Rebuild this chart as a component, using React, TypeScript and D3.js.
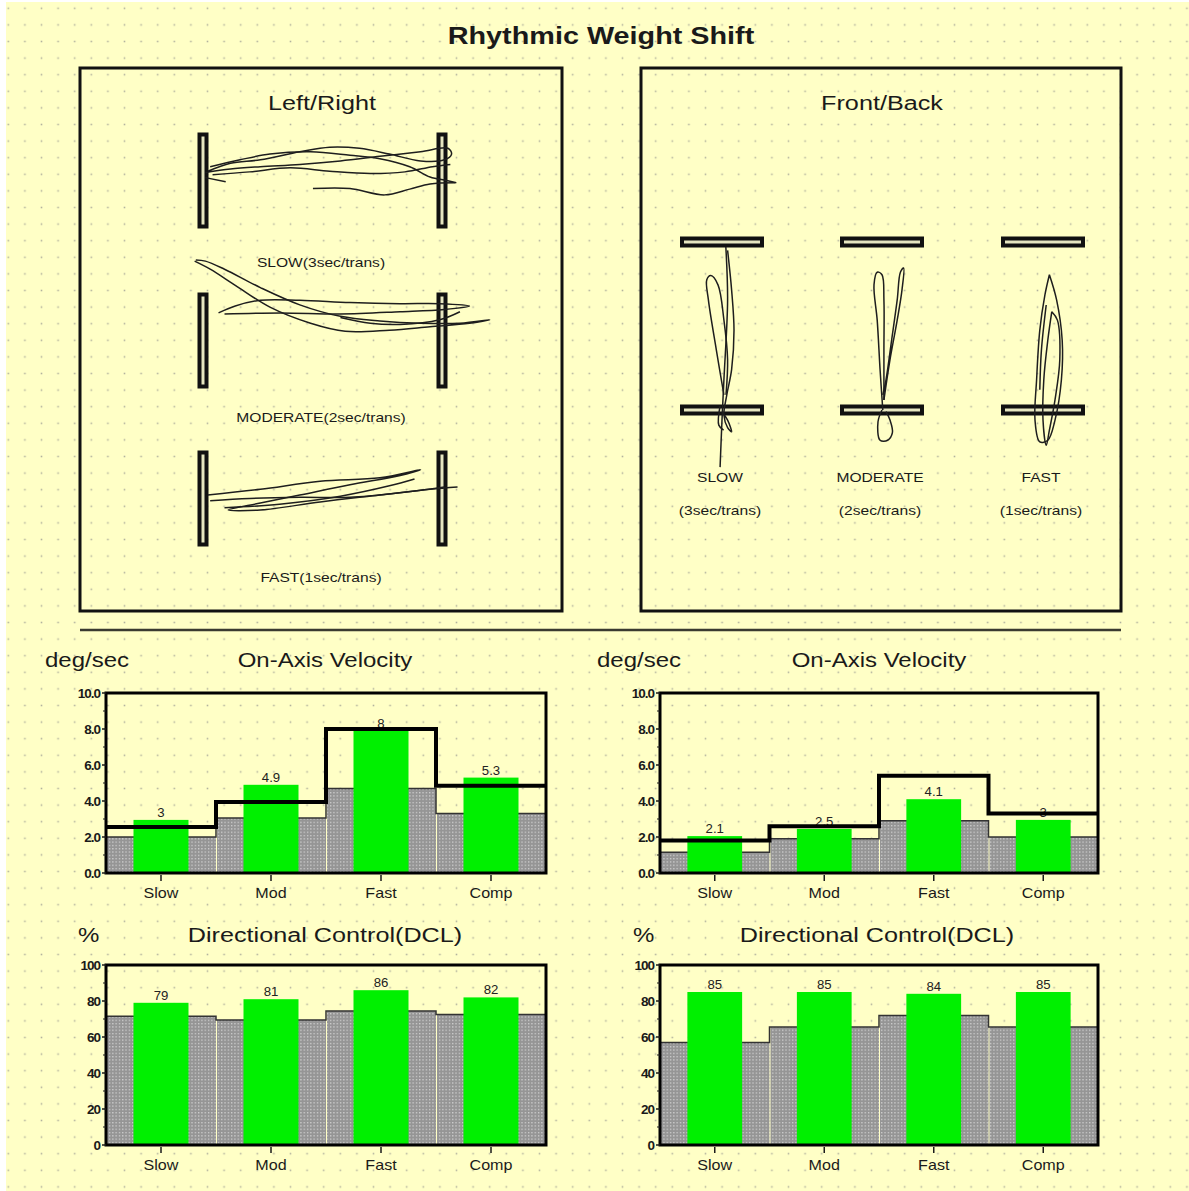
import React, { useEffect, useRef } from "react";
import * as d3 from "d3";

const categories = ["Slow", "Mod", "Fast", "Comp"];

// on-axis velocity, deg/sec
const lrVelocity = [2.95, 4.9, 7.9, 5.3];
const lrVelocityLabels = ["3", "4.9", "8", "5.3"];
const lrVelocityUpper = [2.55, 3.95, 8.0, 4.85];
const lrVelocityNorm = [2.0, 3.05, 4.7, 3.3];

const fbVelocity = [2.05, 2.45, 4.1, 2.95];
const fbVelocityLabels = ["2.1", "2.5", "4.1", "3"];
const fbVelocityUpper = [1.8, 2.6, 5.4, 3.3];
const fbVelocityNorm = [1.15, 1.9, 2.9, 2.0];

// directional control, %
const lrDcl = [79, 81, 86, 82];
const lrDclLabels = ["79", "81", "86", "82"];
const lrDclNorm = [71.5, 69.5, 74.5, 72.5];

const fbDcl = [85, 85, 84, 85];
const fbDclLabels = ["85", "85", "84", "85"];
const fbDclNorm = [57, 65.5, 72, 65.5];

const velocityTicks = [0, 2, 4, 6, 8, 10];
const dclTicks = [0, 20, 40, 60, 80, 100];

// COP traces, % of target distance (u = left/right, v = front/back)
const lrSlowTraces = [
  [[-96, 8], [-77, 15], [-52, 18], [-19, 25], [6, 29], [31, 28], [56, 23], [82, 17], [102, 18], [108, 23], [105, 28], [82, 25], [48, 21], [15, 17], [-19, 14], [-52, 12], [-77, 10], [-98, 7]],
  [[-94, 12], [-69, 18], [-44, 23], [-10, 25], [23, 22], [48, 19], [73, 12], [90, 3], [104, 0], [112, -2]],
  [[-92, 5], [-61, 7.5], [-27, 11], [6, 8], [40, 6], [69, 7.5], [92, 12], [107, 14]],
  [[-8, -7], [23, -7], [52, -12.5], [73, -7.5], [90, -3], [111, -2]],
  [[-98, 2.5], [-81, -1]],
];
const lrModTraces = [
  [[-106, 70], [-98, 69], [-82, 62], [-52, 46], [-19, 31], [15, 21], [48, 17], [82, 15], [115, 15], [140, 18], [123, 15], [90, 12], [56, 9], [19, 8], [-10, 15], [-44, 29], [-73, 48], [-94, 62], [-107, 69]],
  [[-87, 24], [-73, 30], [-52, 35], [-19, 35], [23, 33], [65, 32], [98, 32], [123, 30], [102, 27], [65, 25], [15, 23], [-35, 24], [-82, 23]],
  [[15, 20], [40, 15], [65, 14], [98, 18], [115, 25]],
];
const lrFastTraces = [
  [[-96, 3], [-52, 8], [-2, 15], [48, 18], [82, 25], [65, 20], [23, 12], [-19, 3], [-52, -4], [-79, -10], [-52, -10], [-2, -3], [48, 3], [90, 8], [113, 10]],
  [[-94, -2], [-61, 0], [-19, 1], [23, 1], [65, 5], [102, 10]],
  [[-82, -8], [-36, -5], [15, 2], [56, 11], [77, 17]],
];
const fbSlowTraces = [
  [[4.8, 94], [7, 31], [2.4, -64], [0, -112], [-2.4, -168]],
  [[2.4, -82], [-7, -29], [-17, 31], [-19, 55], [-14, 60], [-5, 49], [2.4, 7], [7, -40], [5, -82]],
  [[7, 90], [12, 43], [15, -5], [12, -52], [6, -82], [2.4, -106], [7, -121], [12, -126], [7, -112], [0, -102]],
  [[-2.4, -95], [-4, -118], [2, -124]],
];
const fbModTraces = [
  [[1, -100], [-2.4, -52], [-6, 7], [-10, 49], [-6, 64], [0, 61], [2.4, 31], [2.4, -29], [2.4, -88]],
  [[2.4, -88], [10, -40], [19, 7], [25, 43], [27, 69], [23, 64], [19, 31], [12, -17], [5, -64], [1, -82]],
  [[0, -100], [-5, -114], [-2.4, -136], [7, -136], [13, -127], [10, -112], [5, -102]],
];
const fbFastTraces = [
  [[8, 61], [17, 31], [24, -17], [23, -64], [15, -112], [6, -136], [-4, -138], [-10, -112], [-8, -64], [-4, -5], [2.4, 37], [8, 61]],
  [[11, 17], [18, 7], [21, -40], [15, -88], [8, -124], [4, -142], [0, -112], [1, -64], [6, -17], [11, 17]],
  [[-4, -76], [-2, -29], [4, 25]],
];

const lrTrials = ["SLOW(3sec/trans)", "MODERATE(2sec/trans)", "FAST(1sec/trans)"];
const fbTrials = ["SLOW", "MODERATE", "FAST"];
const fbRates = ["(3sec/trans)", "(2sec/trans)", "(1sec/trans)"];

const W = 1189;
const H = 1191;
const FONT = "'Liberation Sans', Arial, sans-serif";
const INK = "#1a1a1a";

function label(g, x, y, str, size, anchor = "middle", sx = 1.2, weight = "normal") {
  return g.append("text")
    .attr("transform", `translate(${x},${y}) scale(${sx},1)`)
    .attr("text-anchor", anchor)
    .attr("font-family", FONT)
    .attr("font-size", size)
    .attr("font-weight", weight)
    .attr("fill", INK)
    .text(str);
}

function drawBarChart(svg, cfg) {
  const { x0, x1, y0, y1, max, ticks, fmt, values, labels, norm, upper, unit, unitX, title, titleX, titleY, titleSize } = cfg;
  const x = d3.scaleBand().domain(categories).range([x0, x1]);
  const y = d3.scaleLinear().domain([0, max]).range([y1, y0]);
  const bw = x.bandwidth();
  const g = svg.append("g");

  label(g, unitX, titleY, unit, 20, "start");
  label(g, titleX, titleY, title, titleSize);

  // normal range (grey)
  g.selectAll("rect.norm").data(categories).join("rect")
    .attr("x", d => x(d) + 1)
    .attr("width", bw - 1)
    .attr("y", (d, i) => y(norm[i]))
    .attr("height", (d, i) => y(0) - y(norm[i]))
    .attr("fill", "url(#grayDots)");

  const stepPts = vals => categories.flatMap((c, i) => [[x(c), vals[i]], [x(c) + bw, vals[i]]]);
  const step = d3.line().x(d => d[0]).y(d => y(d[1]));

  g.append("path")
    .attr("d", step(stepPts(norm)))
    .attr("fill", "none")
    .attr("stroke", "#333")
    .attr("stroke-width", 1.5);

  // patient scores (green)
  g.selectAll("rect.score").data(categories).join("rect")
    .attr("x", d => x(d) + bw / 4)
    .attr("width", bw / 2)
    .attr("y", (d, i) => y(values[i]))
    .attr("height", (d, i) => y(0) - y(values[i]))
    .attr("fill", "#00f000");

  g.selectAll("text.val").data(categories).join("text")
    .attr("transform", (d, i) => `translate(${x(d) + bw / 2},${y(values[i]) - 3}) scale(1.1,1)`)
    .attr("text-anchor", "middle")
    .attr("font-family", FONT)
    .attr("font-size", 12)
    .attr("fill", "#222")
    .text((d, i) => labels[i]);

  if (upper) {
    g.append("path")
      .attr("d", step(stepPts(upper)))
      .attr("fill", "none")
      .attr("stroke", "#000")
      .attr("stroke-width", 4)
      .attr("stroke-linejoin", "miter");
  }

  // frame
  g.append("rect")
    .attr("x", x0).attr("y", y0)
    .attr("width", x1 - x0).attr("height", y1 - y0)
    .attr("fill", "none")
    .attr("stroke", "#000")
    .attr("stroke-width", 3);

  // y axis
  const minor = d3.range(0, ticks.length - 1).map(i => (ticks[i] + ticks[i + 1]) / 2);
  g.selectAll("line.ytick").data(ticks).join("line")
    .attr("x1", x0 - 4).attr("x2", x0)
    .attr("y1", d => y(d)).attr("y2", d => y(d))
    .attr("stroke", INK).attr("stroke-width", 1.5);
  g.selectAll("line.yminor").data(minor).join("line")
    .attr("x1", x0 - 3).attr("x2", x0)
    .attr("y1", d => y(d)).attr("y2", d => y(d))
    .attr("stroke", INK).attr("stroke-width", 1);
  ticks.forEach(t => label(g, x0 - 6, y(t) + 5, fmt(t), 13.5, "end", 1.0, "bold").attr("letter-spacing", -1));

  // x axis
  g.selectAll("line.xtick").data(categories).join("line")
    .attr("x1", d => x(d) + bw / 2).attr("x2", d => x(d) + bw / 2)
    .attr("y1", y1 + 2).attr("y2", y1 + 8)
    .attr("stroke", INK).attr("stroke-width", 1.5);
  categories.forEach(c => label(g, x(c) + bw / 2, y1 + 25, c, 14, "middle", 1.15));
}

function drawTrace(g, traces, xs, ys) {
  const line = d3.line().x(d => xs(d[0])).y(d => ys(d[1])).curve(d3.curveCatmullRom.alpha(0.5));
  g.selectAll(null).data(traces).join("path")
    .attr("d", d => line(d))
    .attr("fill", "none")
    .attr("stroke", "#1e1e1e")
    .attr("stroke-width", 1.5);
}

function target(g, cx, cy, w, h) {
  g.append("rect")
    .attr("x", cx - w / 2).attr("y", cy - h / 2)
    .attr("width", w).attr("height", h)
    .attr("fill", "#e6e6c0")
    .attr("stroke", "#111")
    .attr("stroke-width", 4);
}

export default function App() {
  const ref = useRef(null);

  useEffect(() => {
    const svg = d3.select(ref.current);
    svg.selectAll("*").remove();

    const defs = svg.append("defs");
    const bg = defs.append("pattern").attr("id", "bgDots")
      .attr("patternUnits", "userSpaceOnUse").attr("width", 16.6).attr("height", 16.6);
    bg.append("rect").attr("x", 7.5).attr("y", 7.5).attr("width", 1.6).attr("height", 1.6).attr("fill", "#b2b29e");
    const gd = defs.append("pattern").attr("id", "grayDots")
      .attr("patternUnits", "userSpaceOnUse").attr("width", 3.3).attr("height", 3.3);
    gd.append("rect").attr("width", 3.3).attr("height", 3.3).attr("fill", "#959595");
    gd.append("rect").attr("width", 1.3).attr("height", 1.3).attr("fill", "#cfcfcf");

    svg.append("rect").attr("width", W).attr("height", H).attr("fill", "#fff");
    svg.append("rect").attr("x", 6).attr("y", 2).attr("width", W - 6).attr("height", H - 2).attr("fill", "#ffffc6");
    svg.append("rect").attr("x", 6).attr("y", 2).attr("width", W - 6).attr("height", H - 2).attr("fill", "url(#bgDots)");

    label(svg, 601, 44, "Rhythmic Weight Shift", 24, "middle", 1.2, "bold");

    // boxes
    [[80, 562], [641, 1121]].forEach(([a, b]) => {
      svg.append("rect").attr("x", a).attr("y", 68).attr("width", b - a).attr("height", 543)
        .attr("fill", "none").attr("stroke", "#111").attr("stroke-width", 3);
    });
    svg.append("line").attr("x1", 80).attr("x2", 1121).attr("y1", 630).attr("y2", 630)
      .attr("stroke", "#3a3a30").attr("stroke-width", 2.5);

    label(svg, 322, 110, "Left/Right", 21);
    label(svg, 882, 110, "Front/Back", 21);

    // left/right panels
    const lrX = d3.scaleLinear().domain([-100, 100]).range([203, 442]);
    const lrSets = [lrSlowTraces, lrModTraces, lrFastTraces];
    const lrCenters = [180.5, 340.5, 498.5];
    const lrLabelY = [266.5, 421.5, 581.5];
    lrSets.forEach((traces, i) => {
      const ys = d3.scaleLinear().domain([-40, 40]).range([lrCenters[i] + 46, lrCenters[i] - 46]);
      const g = svg.append("g");
      target(g, lrX(-100), ys(0), 7, ys(-40) - ys(40));
      target(g, lrX(100), ys(0), 7, ys(-40) - ys(40));
      drawTrace(g, traces, lrX, ys);
      label(g, 321, lrLabelY[i], lrTrials[i], 13);
    });

    // front/back panels
    const fbY = d3.scaleLinear().domain([-100, 100]).range([410, 242]);
    const fbSets = [fbSlowTraces, fbModTraces, fbFastTraces];
    const fbCenters = [722, 882, 1043];
    fbSets.forEach((traces, i) => {
      const xs = d3.scaleLinear().domain([-50, 50]).range([fbCenters[i] - 40, fbCenters[i] + 40]);
      const g = svg.append("g");
      target(g, xs(0), fbY(100), xs(50) - xs(-50), 7);
      target(g, xs(0), fbY(-100), xs(50) - xs(-50), 7);
      drawTrace(g, traces, xs, fbY);
      label(g, fbCenters[i] - 2, 481.5, fbTrials[i], 13);
      label(g, fbCenters[i] - 2, 514.5, fbRates[i], 13);
    });

    const vel = { y0: 693, y1: 873, max: 10, ticks: velocityTicks, fmt: d3.format(".1f"), unit: "deg/sec", title: "On-Axis Velocity", titleY: 667, titleSize: 20 };
    const dcl = { y0: 965, y1: 1145, max: 100, ticks: dclTicks, fmt: d3.format("d"), unit: "%", title: "Directional Control(DCL)", titleY: 942, titleSize: 21 };

    drawBarChart(svg, { ...vel, x0: 106, x1: 546, values: lrVelocity, labels: lrVelocityLabels, norm: lrVelocityNorm, upper: lrVelocityUpper, unitX: 45, titleX: 325 });
    drawBarChart(svg, { ...vel, x0: 660, x1: 1098, values: fbVelocity, labels: fbVelocityLabels, norm: fbVelocityNorm, upper: fbVelocityUpper, unitX: 597, titleX: 879 });
    drawBarChart(svg, { ...dcl, x0: 106, x1: 546, values: lrDcl, labels: lrDclLabels, norm: lrDclNorm, unitX: 78, titleX: 325 });
    drawBarChart(svg, { ...dcl, x0: 660, x1: 1098, values: fbDcl, labels: fbDclLabels, norm: fbDclNorm, unitX: 633, titleX: 877 });
  }, []);

  return (
    <svg ref={ref} width={W} height={H} style={{ position: "absolute", left: 0, top: 0 }} />
  );
}
